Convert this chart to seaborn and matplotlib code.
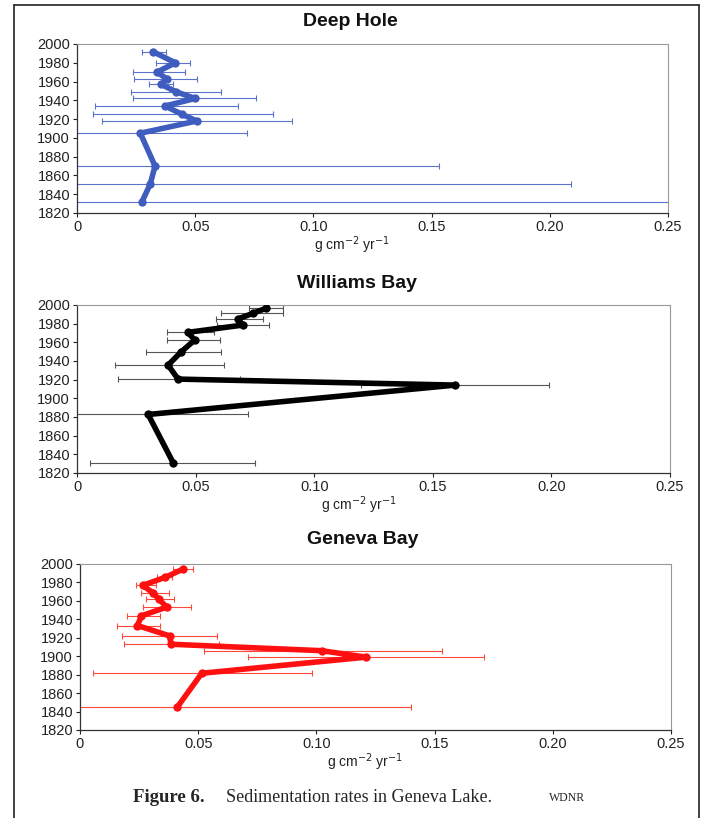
import numpy as np
import pandas as pd
import seaborn as sns
import matplotlib.pyplot as plt
from matplotlib.lines import Line2D

# Deep Hole: year, rate (g cm-2 yr-1) and error bar ends
deep_years = [1992, 1980, 1970, 1963, 1957, 1949, 1942, 1934, 1925, 1918, 1905, 1870, 1851, 1832]
deep_rate = [0.0320, 0.0416, 0.0338, 0.0380, 0.0356, 0.0420, 0.0500, 0.0373, 0.0445, 0.0507,
             0.0268, 0.0330, 0.0310, 0.0275]
deep_lo = [0.0275, 0.0335, 0.0237, 0.0243, 0.0303, 0.0227, 0.0237, 0.0077, 0.0068, 0.0106,
           -0.018, -0.087, -0.147, -0.250]
deep_hi = [0.0376, 0.0478, 0.0458, 0.0507, 0.0408, 0.0609, 0.0758, 0.0679, 0.0828, 0.0909,
           0.0719, 0.1530, 0.2090, 0.3050]

# Williams Bay
wb_years = [1996.5, 1991, 1985, 1978.5, 1970.7, 1962.4, 1950, 1935.6, 1920.6, 1914.2, 1882.7, 1831.2]
wb_rate = [0.0797, 0.0741, 0.0678, 0.0699, 0.0468, 0.0496, 0.0440, 0.0384, 0.0426, 0.1595, 0.0300, 0.0405]
wb_lo = [0.0727, 0.0605, 0.0587, 0.0590, 0.0379, 0.0379, 0.0290, 0.0160, 0.0171, 0.1196, -0.012, 0.0055]
wb_hi = [0.0867, 0.0867, 0.0786, 0.0808, 0.0576, 0.0601, 0.0608, 0.0619, 0.0688, 0.1990, 0.0720, 0.0751]

# Geneva Bay
gb_years = [1994.6, 1985.5, 1976.8, 1968.5, 1962, 1953.3, 1943.8, 1933.3, 1922, 1913, 1906, 1899,
            1881.5, 1845]
gb_rate = [0.0437, 0.0360, 0.0265, 0.0310, 0.0333, 0.0367, 0.0260, 0.0243, 0.0380, 0.0384, 0.1022,
           0.1210, 0.0515, 0.0412]
gb_lo = [0.0395, 0.0327, 0.0236, 0.0257, 0.0279, 0.0268, 0.0200, 0.0155, 0.0176, 0.0186, 0.0526,
         0.0709, 0.0056, -0.058]
gb_hi = [0.0477, 0.0388, 0.0321, 0.0378, 0.0398, 0.0468, 0.0338, 0.0338, 0.0578, 0.0588, 0.1530,
         0.1710, 0.0980, 0.1400]

x_ticks = [0, 0.05, 0.10, 0.15, 0.20, 0.25]
x_tick_labels = ['0', '0.05', '0.10', '0.15', '0.20', '0.25']
y_ticks = list(range(1820, 2001, 20))

sns.set_theme(style='white')
plt.rcParams['font.family'] = ['Liberation Sans', 'DejaVu Sans']

W, H = 707, 818
fig = plt.figure(figsize=(W / 100, H / 100), dpi=100)


def px_axes(left, top, right, bottom):
    return fig.add_axes([left / W, 1 - bottom / H, (right - left) / W, (bottom - top) / H])


def draw_panel(ax, years, rate, lo, hi, line_color, bar_color):
    df = pd.DataFrame({'year': years, 'rate': rate})
    err = [np.array(rate) - np.array(lo), np.array(hi) - np.array(rate)]
    ax.errorbar(rate, years, xerr=err, fmt='none', ecolor=bar_color, elinewidth=0.8,
                capsize=2.5, capthick=0.8, zorder=2)
    sns.lineplot(data=df, x='rate', y='year', sort=False, estimator=None, color=line_color,
                 lw=4, marker='o', markersize=6, markeredgewidth=0, ax=ax, zorder=3)
    ax.set_xlim(0, 0.25)
    ax.set_ylim(1820, 2000)
    ax.set_xticks(x_ticks)
    ax.set_xticklabels(x_tick_labels)
    ax.set_yticks(y_ticks)
    ax.tick_params(direction='out', length=3, width=0.8, labelsize=10.5, pad=2,
                   bottom=True, left=True, colors='#222222')
    ax.set_xlabel('')
    ax.set_ylabel('')
    for side in ['left', 'bottom']:
        ax.spines[side].set_color('#333333')
        ax.spines[side].set_linewidth(0.9)
    for side in ['top', 'right']:
        ax.spines[side].set_color('#999999')
        ax.spines[side].set_linewidth(0.8)


panels = [
    ('Deep Hole', (77, 44, 668, 213), deep_years, deep_rate, deep_lo, deep_hi,
     '#3f5cbf', '#5a74cc', 350, 22),
    ('Williams Bay', (77, 305, 670, 473), wb_years, wb_rate, wb_lo, wb_hi,
     '#000000', '#555555', 357, 283),
    ('Geneva Bay', (80, 564, 671, 730), gb_years, gb_rate, gb_lo, gb_hi,
     '#ff1010', '#ff4a3a', 363, 540),
]

for title, box, yrs, rt, lo, hi, lc, bc, tx, ty in panels:
    ax = px_axes(*box)
    draw_panel(ax, yrs, rt, lo, hi, lc, bc)
    fig.text(tx / W, 1 - ty / H, title, ha='center', va='center', fontsize=14,
             fontweight='bold', color='#111111')
    fig.text((tx + 2) / W, 1 - (box[3] + 32) / H, 'g cm$^{-2}$ yr$^{-1}$', ha='center',
             va='center', fontsize=10, color='#222222')

# caption
fig.text(133 / W, 1 - 797 / H, 'Figure 6.', ha='left', va='center', fontsize=13.5,
         fontweight='bold', family='Liberation Serif')
fig.text(226 / W, 1 - 797 / H, 'Sedimentation rates in Geneva Lake.', ha='left', va='center',
         fontsize=13, family='Liberation Serif')
fig.text(549 / W, 1 - 798 / H, 'WDNR', ha='left', va='center', fontsize=8.5,
         family='Liberation Serif')

# page border
fig.add_artist(Line2D([14 / W, 14 / W], [0, 1 - 5 / H], color='#222222', lw=1.2))
fig.add_artist(Line2D([14 / W, 699 / W], [1 - 5 / H, 1 - 5 / H], color='#222222', lw=1.2))
fig.add_artist(Line2D([699 / W, 699 / W], [0, 1 - 5 / H], color='#222222', lw=1.2))

plt.savefig('out.png', dpi=100)
